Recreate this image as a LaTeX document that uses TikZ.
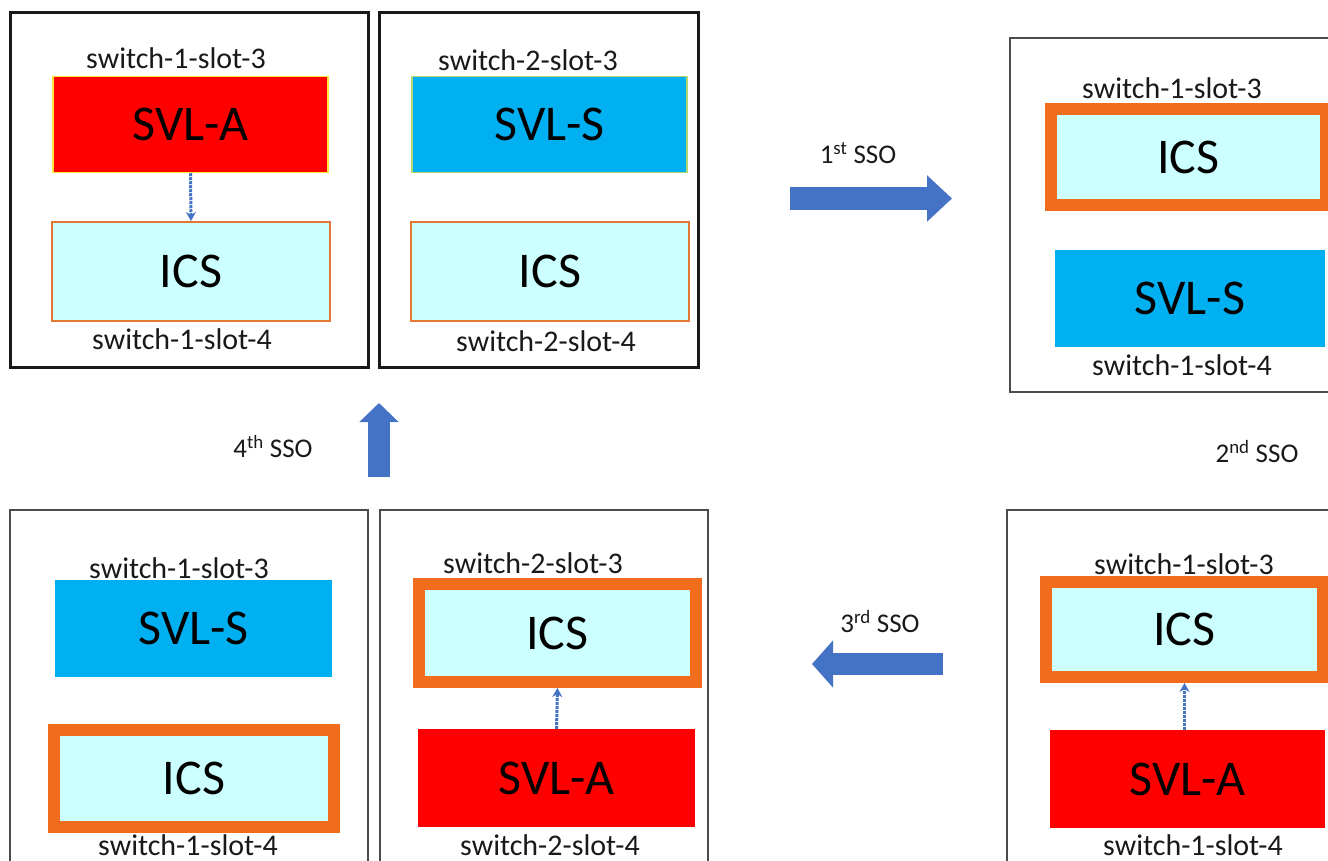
\documentclass[tikz,border=0pt]{standalone}
\usepackage{fontspec}
\setmainfont{Carlito}
\usetikzlibrary{arrows.meta}

\definecolor{svlared}{RGB}{255,0,0}
\definecolor{svlsblue}{RGB}{0,176,240}
\definecolor{icscyan}{RGB}{204,255,255}
\definecolor{icsorange}{RGB}{242,108,30}
\definecolor{thinorange}{RGB}{228,120,50}
\definecolor{rimyellow}{RGB}{255,230,60}
\definecolor{ssoblue}{RGB}{68,114,196}

\tikzset{
  frame/.style={draw=black!90, line width=3pt, rectangle, inner sep=0pt},
  softframe/.style={frame, draw=black!70, line width=2pt},
  module/.style={rectangle, inner sep=0pt, minimum width=275pt, minimum height=96pt,
    font=\fontsize{50}{54}\selectfont, text=black},
  svla/.style={module, fill=svlared},
  svls/.style={module, fill=svlsblue},
  ics/.style={module, fill=icscyan, draw=thinorange, line width=2pt},
  icsact/.style={module, fill=icscyan, draw=icsorange, line width=12pt},
  slotlbl/.style={font=\fontsize{30}{32}\selectfont, text=black!90, inner sep=0pt},
  ssolbl/.style={font=\fontsize{27}{29}\selectfont, text=black!90, inner sep=0pt},
  link/.style={densely dotted, draw=ssoblue, line width=3pt, -{Stealth[length=9pt,width=10pt]}},
}

\begin{document}
\begin{tikzpicture}[x=1pt, y=-1pt]
        \useasboundingbox (0,0) rectangle (1328,861);
        \clip (0,0) rectangle (1328,861);

        % Top left: switch 1 before
        \node[frame, minimum width=358pt, minimum height=354pt] (f1) at (189,190) {};
        \node[svla, draw=rimyellow, line width=1.5pt] (p1s3) at (190.5,124.5) {SVL-A};
        \node[ics, minimum width=278pt, minimum height=99pt] (p1s4) at (191,271.5) {ICS};
        \node[slotlbl] (p1l3) at (176,58) {switch-1-slot-3};
        \node[slotlbl] (p1l4) at (182,339) {switch-1-slot-4};

        % Top middle: switch 2 before
        \node[frame, minimum width=319pt, minimum height=354pt] (f2) at (538.5,190) {};
        \node[svls, draw=rimyellow!70!svlsblue, line width=1.5pt] (p2s3) at (549.5,124.5) {SVL-S};
        \node[ics, minimum width=278pt, minimum height=99pt] (p2s4) at (550,271.5) {ICS};
        \node[slotlbl] (p2l3) at (528,60) {switch-2-slot-3};
        \node[slotlbl] (p2l4) at (546,341) {switch-2-slot-4};

        % Top right: after 1st SSO
        \node[softframe, minimum width=335pt, minimum height=354pt] (f3) at (1177.5,215) {};
        \node[icsact] (p3s3) at (1188.5,157.5) {ICS};
        \node[svls, minimum width=270pt, minimum height=97pt] (p3s4) at (1190,298.5) {SVL-S};
        \node[slotlbl] (p3l3) at (1172,88) {switch-1-slot-3};
        \node[slotlbl] (p3l4) at (1182,365) {switch-1-slot-4};

        % Bottom right: after 2nd SSO
        \node[softframe, minimum width=338pt, minimum height=370pt] (f4) at (1176,695) {};
        \node[icsact, minimum width=277pt, minimum height=95pt] (p4s3) at (1184.5,629.5) {ICS};
        \node[svla, minimum height=98pt] (p4s4) at (1187.5,779) {SVL-A};
        \node[slotlbl] (p4l3) at (1184,564) {switch-1-slot-3};
        \node[slotlbl] (p4l4) at (1193,845) {switch-1-slot-4};

        % Bottom middle: after 3rd SSO
        \node[softframe, minimum width=328pt, minimum height=370pt] (f5) at (544,695) {};
        \node[icsact, minimum width=277pt, minimum height=98pt] (p5s3) at (557.5,633) {ICS};
        \node[svla, minimum width=277pt, minimum height=98pt] (p5s4) at (556.5,778) {SVL-A};
        \node[slotlbl] (p5l3) at (533,563) {switch-2-slot-3};
        \node[slotlbl] (p5l4) at (550,845) {switch-2-slot-4};

        % Bottom left: switch 1 after 3rd SSO
        \node[softframe, minimum width=358pt, minimum height=370pt] (f6) at (189,695) {};
        \node[svls, minimum width=277pt, minimum height=97pt] (p6s3) at (193.5,628.5) {SVL-S};
        \node[icsact, minimum width=280pt, minimum height=97pt] (p6s4) at (194,778.5) {ICS};
        \node[slotlbl] (p6l3) at (179,568) {switch-1-slot-3};
        \node[slotlbl] (p6l4) at (188,845) {switch-1-slot-4};

        % Module links
        \draw[link] (p1s3.south) -- (p1s4.north);
        \draw[link] (p4s4.north -| p4s3.south) -- (p4s3.south);
        \draw[link] (p5s4.north) -- (p5s3.south);

        % SSO steps
        \coordinate (a1) at (790,198.5);
        \coordinate (b1) at (952,198.5);
        \coordinate (a3) at (943,664);
        \coordinate (b3) at (812,664);
        \coordinate (a4) at (379,477);
        \coordinate (b4) at (379,403);
        \draw[draw=ssoblue, line width=23pt, -{Triangle[width=45pt,length=25pt]}] (a1) -- (b1);
        \draw[draw=ssoblue, line width=22pt, -{Triangle[width=46pt,length=21pt]}] (a3) -- (b3);
        \draw[draw=ssoblue, line width=22pt, -{Triangle[width=38pt,length=19pt]}] (a4) -- (b4);
        \node[ssolbl] (s1) at (858,153) {1\textsuperscript{st} SSO};
        \node[ssolbl] (s2) at (1257,452) {2\textsuperscript{nd} SSO};
        \node[ssolbl] (s3) at (880,622) {3\textsuperscript{rd} SSO};
        \node[ssolbl] (s4) at (273,447) {4\textsuperscript{th} SSO};
    \end{tikzpicture}
\end{document}
